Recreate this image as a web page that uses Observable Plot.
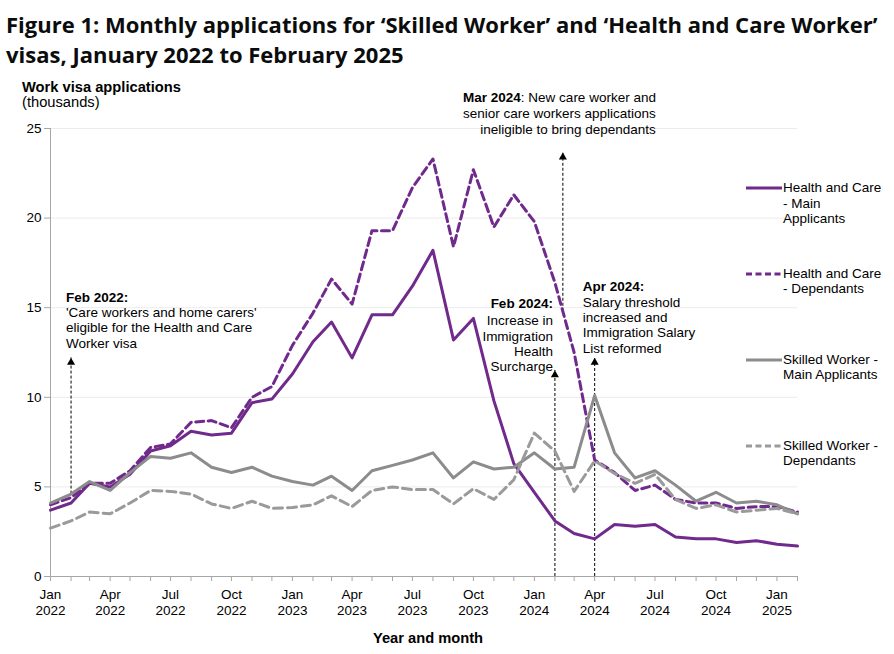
<!DOCTYPE html>
<html><head><meta charset="utf-8">
<script src="https://cdn.jsdelivr.net/npm/d3@7"></script>
<script src="https://cdn.jsdelivr.net/npm/@observablehq/plot@0.6"></script>
<style>
body{margin:0;background:#fff;font-family:"Liberation Sans",Arial,sans-serif;color:#000;}
#fig{position:relative;width:894px;height:654px;overflow:hidden;background:#fff;}
#title{position:absolute;left:6px;top:9px;font-family:"Open Sans",Roboto,sans-serif;font-weight:700;font-size:22px;line-height:30px;color:#0b0c0c;white-space:nowrap;margin:0;}
#ytitle{position:absolute;left:22px;top:80px;font-size:14.7px;line-height:15.3px;}
#chart{position:absolute;left:0;top:80px;}
.leg{position:absolute;left:746px;font-size:13.5px;line-height:15.3px;}
.leg svg{position:absolute;left:0;}
.leg div{position:absolute;left:37px;white-space:nowrap;}
</style></head>
<body>
<div id="fig">
  <div id="chart"></div>
  <h1 id="title">Figure 1: Monthly applications for ‘Skilled Worker’ and ‘Health and Care Worker’<br>visas, January 2022 to February 2025</h1>
  <div id="ytitle"><b>Work visa applications</b><br>(thousands)</div>
  <div id="legend"></div>
</div>
<script>
// ---- Data (thousands of applications), Jan 2022 .. Feb 2025 ----
const startMonth = new Date(Date.UTC(2022, 0, 1));
const endMonth = new Date(Date.UTC(2025, 1, 1));
const months = d3.utcMonth.range(startMonth, d3.utcMonth.offset(endMonth, 1));

const hcMain = [3.7,4.1,5.2,5.0,5.7,7.0,7.3,8.1,7.9,8.0,9.7,9.9,
                11.3,13.1,14.2,12.2,14.6,14.6,16.2,18.2,13.2,14.4,9.8,6.3,
                4.7,3.1,2.4,2.1,2.9,2.8,2.9,2.2,2.1,2.1,1.9,2.0,1.8,1.7];
const hcDep  = [4.0,4.4,5.2,5.2,5.9,7.2,7.4,8.6,8.7,8.3,10.0,10.6,
                12.9,14.7,16.6,15.2,19.3,19.3,21.7,23.3,18.4,22.7,19.5,21.3,
                19.8,16.4,12.5,6.5,5.8,4.8,5.1,4.3,4.1,4.1,3.8,3.9,3.9,3.6];
const swMain = [4.1,4.6,5.3,4.8,5.8,6.7,6.6,6.9,6.1,5.8,6.1,5.6,
                5.3,5.1,5.6,4.8,5.9,6.2,6.5,6.9,5.5,6.4,6.0,6.1,
                6.9,6.0,6.1,10.1,6.9,5.5,5.9,5.1,4.2,4.7,4.1,4.2,4.0,3.5];
const swDep  = [2.7,3.1,3.6,3.5,4.1,4.8,4.75,4.6,4.05,3.8,4.2,3.8,
                3.85,4.0,4.5,3.9,4.8,5.0,4.85,4.85,4.05,4.9,4.3,5.4,
                8.0,7.0,4.75,6.45,5.75,5.2,5.7,4.3,3.8,4.0,3.6,3.7,3.8,3.5];

const seriesNames = ["Health and Care\n- Main\nApplicants","Health and Care\n- Dependants","Skilled Worker -\nMain Applicants","Skilled Worker -\nDependants"];
const seriesValues = [hcMain, hcDep, swMain, swDep];
const yTicks = [0,5,10,15,20,25];

// annotation arrows: date, arrow base value, arrow tip value
const noteDates = [new Date(Date.UTC(2022,1,1)), new Date(Date.UTC(2024,1,1)), new Date(Date.UTC(2024,1,13)), new Date(Date.UTC(2024,3,1))];
const noteBase = [4.6, 0, 14.8, 0];
const noteTip  = [12.2, 11.5, 23.65, 12.2];

// ---- styles ----
const purple = "#702a8c", grey = "#8c8c8c", greyDash = "#9a9a9a";
const seriesStyle = [
  {stroke: purple, dash: null},
  {stroke: purple, dash: "8,4.5"},
  {stroke: grey, dash: null},
  {stroke: greyDash, dash: "9,5"}
];

const rows = seriesValues.map((vals, s) => months.map((d, i) => ({date: d, value: vals[i], s})));
const notes = noteDates.map((d, i) => ({date: d, y1: noteBase[i], y2: noteTip[i]}));

const fmtTick = d => (d.getUTCMonth() % 3 === 0) ? d3.utcFormat("%b\n%Y")(d) : "";
const axisGrey = "#a6a6a6";
const FS = 13.5;
const T = {fontSize: FS, lineHeight: 15.4 / FS};

const plot = Plot.plot({
  width: 894,
  height: 574,
  marginLeft: 50,
  marginRight: 97,
  marginTop: 48,
  marginBottom: 78,
  style: {fontFamily: "'Liberation Sans', Arial, sans-serif", fontSize: FS + "px", color: "#000", background: "transparent"},
  x: {type: "utc", domain: [startMonth, endMonth]},
  y: {domain: [0, 25]},
  marks: [
    Plot.gridY(yTicks.filter(t => t > 0), {stroke: "#ececec", strokeOpacity: 1}),
    Plot.axisY({ticks: yTicks, tickSize: 6, tickPadding: 3, stroke: axisGrey, label: null, fontSize: FS}),
    Plot.axisX({ticks: months, tickSize: 5, tickPadding: 6, stroke: axisGrey, tickFormat: fmtTick, lineHeight: 16 / FS, label: null, fontSize: FS}),
    Plot.ruleX([startMonth], {stroke: axisGrey}),
    Plot.ruleY([0], {stroke: axisGrey}),
    // annotation arrows
    Plot.ruleX(notes, {x: "date", y1: "y1", y2: "y2", stroke: "#000", strokeWidth: 1, strokeDasharray: "3,2"}),
    Plot.dot(notes, {x: "date", y: "y2", symbol: "triangle", r: 3, fill: "#000", stroke: null, dy: 4.5}),
    // series lines
    ...rows.map((r, s) => Plot.line(r, {x: "date", y: "value", stroke: seriesStyle[s].stroke, strokeWidth: 3,
        strokeDasharray: seriesStyle[s].dash, strokeLinejoin: "round"})),
    // annotation texts
    Plot.text([notes[0]], {x: "date", y: "y2", text: () => "Feb 2022:", textAnchor: "start", lineAnchor: "bottom", dx: -5, dy: -56, fontWeight: "bold", ...T}),
    Plot.text([notes[0]], {x: "date", y: "y2", text: () => "'Care workers and home carers'\neligible for the Health and Care\nWorker visa", textAnchor: "start", lineAnchor: "bottom", dx: -5, dy: -10, ...T}),
    Plot.text([notes[1]], {x: "date", y: "y2", text: () => "Feb 2024:", textAnchor: "end", lineAnchor: "bottom", dx: -2, dy: -62, fontWeight: "bold", ...T}),
    Plot.text([notes[1]], {x: "date", y: "y2", text: () => "Increase in\nImmigration\nHealth\nSurcharge", textAnchor: "end", lineAnchor: "bottom", dx: -2, dy: 1, ...T}),
    Plot.text([notes[2]], {x: "date", y: "y2", text: () => "Mar 2024", textAnchor: "end", lineAnchor: "bottom", dx: -42, dy: -51, fontWeight: "bold", ...T}),
    Plot.text([notes[2]], {x: "date", y: "y2", text: () => ": New care worker and", textAnchor: "start", lineAnchor: "bottom", dx: -42, dy: -51, ...T}),
    Plot.text([notes[2]], {x: "date", y: "y2", text: () => "senior care workers applications\nineligible to bring dependants", textAnchor: "end", lineAnchor: "bottom", dx: 93, dy: -18.5, fontSize: FS, lineHeight: 16.3 / FS}),
    Plot.text([notes[3]], {x: "date", y: "y2", text: () => "Apr 2024:", textAnchor: "start", lineAnchor: "bottom", dx: -12, dy: -67, fontWeight: "bold", ...T}),
    Plot.text([notes[3]], {x: "date", y: "y2", text: () => "Salary threshold\nincreased and\nImmigration Salary\nList reformed", textAnchor: "start", lineAnchor: "bottom", dx: -12, dy: -5, ...T}),
    // x axis title
    Plot.text(["Year and month"], {frameAnchor: "bottom", text: d => d, lineAnchor: "bottom", dy: 66, dx: 4, fontWeight: "bold", fontSize: 14.7})
  ]
});
document.getElementById("chart").appendChild(plot);

// ---- legend (HTML) ----
const legTops = [180.4, 265.7, 351.7, 437.7];
const legend = document.getElementById("legend");
seriesNames.forEach((name, s) => {
  const st = seriesStyle[s];
  const item = document.createElement("div");
  item.className = "leg";
  item.style.top = legTops[s] + "px";
  const dash = st.dash ? `stroke-dasharray="6,3.5"` : "";
  item.innerHTML = `<svg width="36" height="6" style="top:5px"><line x1="0" x2="36" y1="3" y2="3" stroke="${st.stroke}" stroke-width="3" ${dash}/></svg>` +
    `<div>${name.split("\n").join("<br>")}</div>`;
  legend.appendChild(item);
});
</script>
</body></html>
